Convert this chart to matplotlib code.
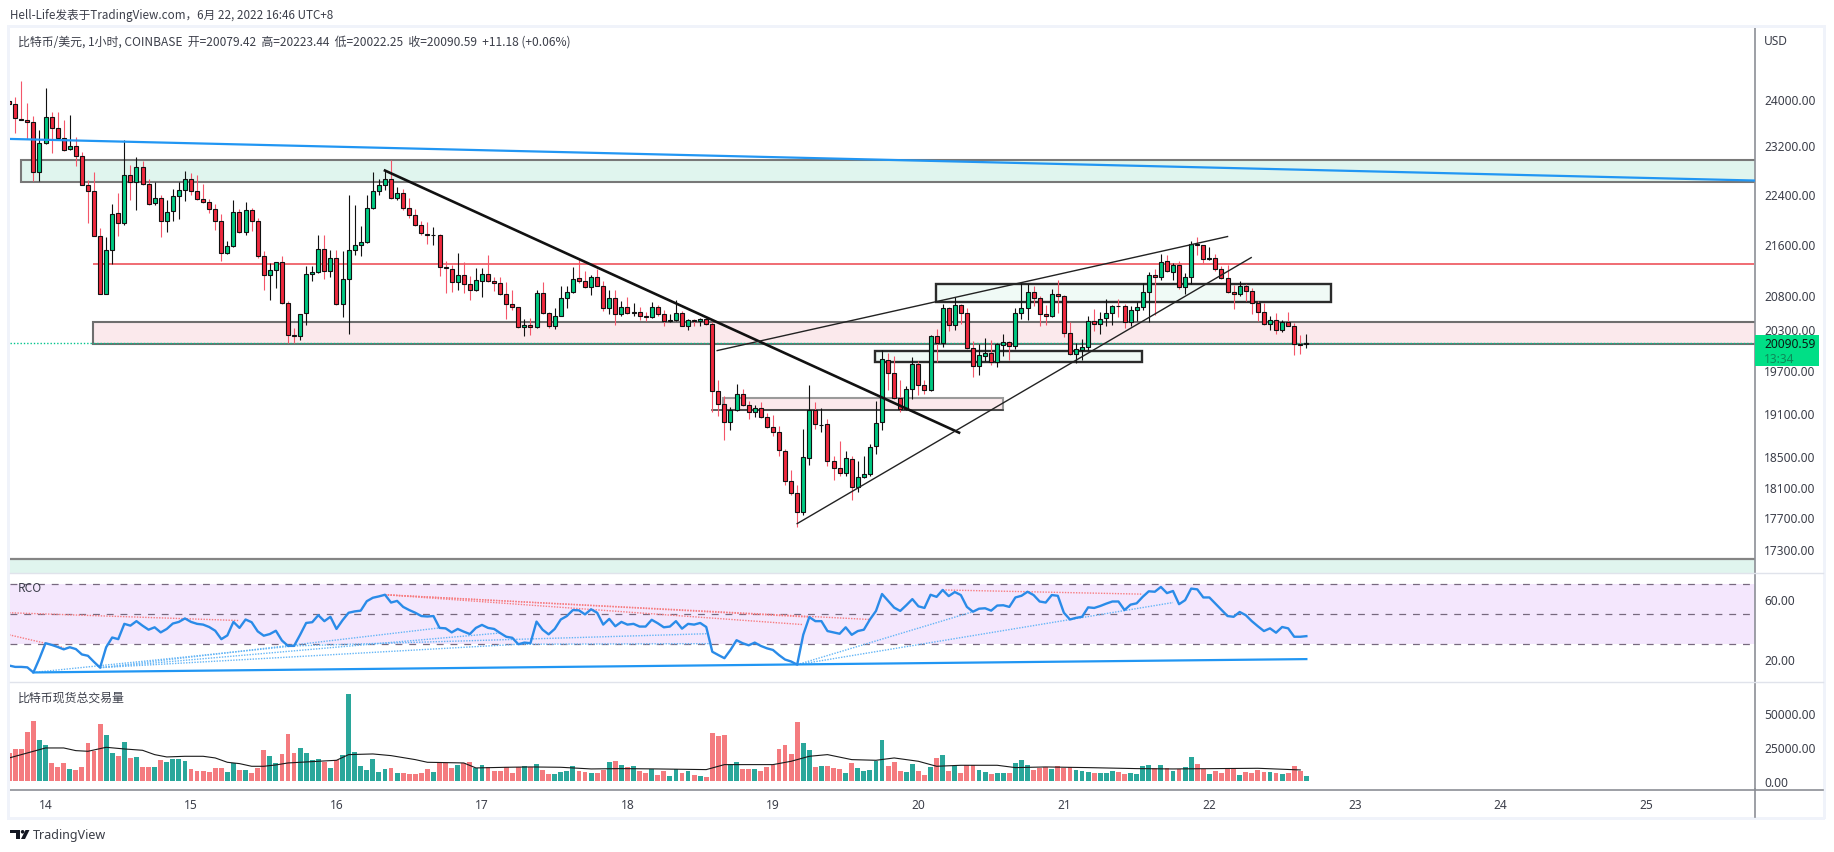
import matplotlib
matplotlib.use("Agg")
import matplotlib.pyplot as plt
from matplotlib.patches import Rectangle, Polygon, Circle
import numpy as np

W, H = 1834, 853
CJK = ['Noto Sans CJK SC', 'DejaVu Sans']
TEXT = '#3c3f4a'

# hourly candles, first one is 13 June 18:00, hour 0 is 14 June 00:00
first_hour = -6

opens = [
    23958, 23912, 23657, 23634, 23600, 22757, 23242, 23686, 23498, 23327, 23141, 23192, 23024, 22543, 22445, 21721,
    20823, 21501, 22088, 21928, 22707, 22592, 22840, 22559, 22244, 22330, 21960, 22120, 22363, 22461, 22641, 22445,
    22314, 22265, 22153, 21960, 21454, 21564, 22104, 21785, 22137, 21960, 21407, 21113, 21190, 21314, 20687, 20211,
    20196, 20537, 21128, 21159, 21517, 21175, 21376, 20672, 21051, 21501, 21580, 21626, 22169, 22445, 22543, 22641,
    22330, 22412, 22169, 22056, 21891, 21753, 21737, 21737, 21236, 21206, 21006, 21113, 20975, 20884, 21021, 21128,
    21021, 20990, 20823, 20672, 20627, 20329, 20358, 20329, 20838, 20537, 20343, 20492, 20762, 20853, 21067, 21021,
    20929, 21082, 20945, 20612, 20762, 20517, 20627, 20537, 20552, 20492, 20477, 20627, 20522, 20417, 20432, 20537,
    20343, 20432, 20417, 20447, 20373, 19404, 19222, 18971, 19138, 19362, 19208, 19110, 19166, 19040, 18902, 18833,
    18575, 18173, 18016, 17768, 18480, 19138, 18925, 18943, 18440, 18347, 18280, 18467, 18095, 18226, 18267, 18642,
    18971, 19846, 19660, 19306, 19152, 19433, 19789, 19489, 19418, 20196, 20094, 20612, 20358, 20657, 20537, 20021,
    19760, 19904, 19948, 19818, 20065, 20108, 20050, 20537, 20612, 20853, 20762, 20522, 20492, 20823, 20792, 20240,
    19933, 19992, 20036, 20417, 20373, 20462, 20537, 20642, 20642, 20402, 20582, 20627, 20853, 21113, 21082, 21329,
    21159, 21268, 20929, 21082, 21600, 21579, 21355, 21376, 21206, 21067, 20853, 20823, 20945, 20869, 20687, 20552,
    20373, 20432, 20285, 20402, 20343, 20074, 20079.42,
]
highs = [
    23987, 24034, 24309, 23918, 23698, 23469, 24192, 23773, 23779, 23629, 23727, 23344, 23091, 22630, 22757, 21848,
    21705, 22233, 22412, 23292, 22879, 23007, 22940, 22641, 22592, 22385, 22303, 22467, 22586, 22774, 22740, 22707,
    22565, 22314, 22228, 22072, 21637, 22298, 22158, 22271, 22169, 22008, 21481, 21298, 21319, 21413, 20712, 20314,
    20522, 21257, 21247, 21737, 21737, 21506, 21496, 21481, 22379, 22222, 21886, 22385, 22757, 22641, 22779, 22962,
    22510, 22478, 22330, 22153, 21965, 21939, 21864, 21753, 21334, 21273, 21457, 21314, 21092, 21221, 21221, 21423,
    21082, 21082, 21001, 20889, 20627, 20447, 20462, 20889, 21006, 20552, 20612, 20940, 20940, 21236, 21340, 21170,
    21113, 21206, 21026, 20889, 20889, 20717, 20777, 20687, 20627, 20547, 20702, 20657, 20577, 20527, 20737, 20567,
    20447, 20447, 20457, 20487, 20398, 19564, 19329, 19180, 19508, 19437, 19259, 19212, 19245, 19096, 19063, 18921,
    18602, 18325, 18125, 18879, 19494, 19245, 19166, 19017, 18503, 18714, 18580, 18503, 18445, 18512, 18674, 19268,
    19997, 19948, 19900, 19564, 19479, 19890, 19837, 19564, 20216, 20304, 20677, 20627, 20777, 20672, 20612, 20128,
    20079, 20172, 20142, 20094, 20231, 20128, 20612, 20990, 20980, 20940, 20798, 20662, 20904, 21041, 20813, 20398,
    20094, 20152, 20487, 20602, 20552, 20747, 20662, 20747, 20672, 20647, 20697, 20990, 21164, 21206, 21444, 21428,
    21298, 21334, 21144, 21647, 21705, 21579, 21543, 21444, 21247, 21273, 20965, 21026, 20980, 20914, 20712, 20687,
    20497, 20537, 20437, 20552, 20388, 20216, 20223.44,
]
lows = [
    23871, 23412, 23629, 23309, 22603, 22603, 23231, 23074, 23298, 23113, 23130, 22851, 22537, 21928, 21716, 20818,
    20818, 21288, 21726, 21891, 22303, 22142, 22543, 22222, 22222, 21700, 21785, 21955, 21992, 22276, 22385, 22303,
    22249, 22088, 21811, 21324, 21444, 21549, 21769, 21743, 21795, 21376, 20889, 20727, 20914, 20677, 20094, 20094,
    20142, 20353, 21016, 21144, 21051, 21082, 20662, 20477, 20221, 21428, 21402, 21611, 22158, 22385, 22456, 22314,
    22292, 22142, 22008, 21875, 21743, 21600, 21585, 21092, 20838, 20848, 20889, 20838, 20727, 20863, 20772, 21001,
    20863, 20813, 20447, 20587, 20314, 20191, 20211, 20314, 20527, 20319, 20299, 20487, 20612, 20838, 20990, 20914,
    20813, 20940, 20562, 20527, 20362, 20497, 20522, 20487, 20437, 20412, 20467, 20487, 20338, 20397, 20412, 20338,
    20289, 20338, 20348, 20363, 19105, 19049, 18719, 18866, 19119, 19198, 19017, 19035, 19026, 18888, 18774, 18503,
    18125, 17994, 17572, 17734, 18391, 18875, 18829, 18378, 18191, 18235, 18235, 17928, 18024, 18213, 18235, 18539,
    18866, 19414, 19292, 19105, 19143, 19296, 19343, 19362, 19399, 19813, 20031, 20265, 20279, 20378, 20011, 19597,
    19636, 19827, 19779, 19741, 19900, 19851, 20006, 20452, 20437, 20647, 20338, 20358, 20477, 20537, 20176, 19924,
    19803, 19851, 19987, 20275, 20231, 20348, 20363, 20472, 20319, 20338, 20412, 20587, 20397, 20502, 21031, 21154,
    21041, 20899, 20828, 20980, 21428, 21298, 21340, 21170, 21051, 20838, 20597, 20787, 20712, 20527, 20422, 20363,
    20289, 20231, 20250, 20338, 19924, 19938, 20022.25,
]
closes = [
    23912, 23669, 23634, 23594, 22757, 23242, 23686, 23498, 23327, 23124, 23192, 23024, 22543, 22445, 21721, 20823,
    21496, 22072, 21928, 22707, 22592, 22840, 22559, 22233, 22330, 21960, 22104, 22363, 22461, 22641, 22445, 22314,
    22265, 22153, 21960, 21454, 21564, 22104, 21785, 22137, 21960, 21407, 21113, 21190, 21314, 20687, 20211, 20196,
    20522, 21128, 21159, 21517, 21175, 21376, 20672, 21051, 21501, 21580, 21626, 22169, 22445, 22543, 22641, 22330,
    22412, 22169, 22056, 21891, 21769, 21743, 21743, 21236, 21221, 21006, 21113, 20975, 20884, 21036, 21128, 21021,
    20990, 20823, 20672, 20627, 20329, 20358, 20329, 20838, 20537, 20343, 20492, 20762, 20853, 21051, 21021, 20929,
    21082, 20945, 20612, 20762, 20522, 20627, 20537, 20552, 20492, 20477, 20627, 20522, 20412, 20432, 20537, 20343,
    20432, 20417, 20447, 20373, 19404, 19222, 18971, 19138, 19362, 19208, 19110, 19166, 19040, 18902, 18833, 18588,
    18173, 18016, 17768, 18494, 19138, 18943, 18930, 18440, 18347, 18280, 18480, 18095, 18226, 18267, 18629, 18957,
    19861, 19660, 19306, 19152, 19433, 19789, 19489, 19418, 20196, 20094, 20612, 20358, 20657, 20537, 20021, 19760,
    19919, 19948, 19818, 20079, 20108, 20050, 20537, 20612, 20853, 20762, 20522, 20492, 20823, 20792, 20240, 19933,
    20006, 20036, 20417, 20373, 20447, 20537, 20642, 20637, 20402, 20582, 20627, 20853, 21113, 21082, 21314, 21175,
    21268, 20929, 21082, 21595, 21579, 21360, 21371, 21206, 21067, 20853, 20823, 20945, 20869, 20687, 20552, 20373,
    20432, 20285, 20402, 20343, 20079, 20065, 20090.59,
]

rsi_values = [
    15.8, 14.9, 14.9, 14.6, 11.2, 20.5, 30.7, 29.6, 28.2, 26.6, 28.0, 26.8, 23.2, 22.3, 18.2, 14.4, 28.0, 34.5, 33.4,
    43.6, 42.4, 45.4, 42.4, 39.7, 41.3, 37.9, 40.2, 43.8, 44.9, 47.2, 44.9, 43.6, 43.1, 41.5, 39.0, 33.4, 35.9, 44.9,
    40.9, 46.5, 44.7, 38.6, 35.7, 36.8, 39.0, 32.5, 28.9, 28.9, 36.3, 44.2, 44.7, 49.4, 45.4, 48.3, 40.2, 46.0, 51.0,
    51.9, 52.4, 58.7, 61.0, 61.9, 63.0, 57.8, 58.9, 54.9, 52.8, 51.0, 48.8, 48.5, 48.8, 40.9, 40.6, 37.9, 40.2, 38.4,
    36.8, 40.9, 42.9, 40.9, 40.2, 37.5, 35.0, 34.3, 30.0, 31.1, 30.7, 45.1, 39.7, 36.6, 40.2, 46.5, 48.8, 52.8, 52.6,
    49.9, 53.3, 51.0, 43.1, 46.9, 42.0, 44.9, 43.1, 43.6, 41.8, 41.8, 46.3,
    44.0, 41.3, 41.8, 45.4, 40.4, 43.6, 43.1, 44.2, 41.5, 25.0, 22.8, 20.7, 26.2, 32.7, 30.7, 29.3, 31.1, 28.9, 27.3,
    26.2, 22.8, 19.8, 18.5, 16.4, 36.3, 48.1, 45.4, 45.4, 38.8, 37.9, 37.0, 41.3, 36.3, 38.8, 39.7, 46.5, 52.2, 63.5,
    58.9, 54.4, 52.2, 56.0, 60.1, 55.3, 54.2, 63.0, 61.6, 66.2, 62.1, 64.8, 62.8, 54.9, 51.7, 53.7, 54.0, 52.4, 55.8,
    56.0, 54.9, 61.2, 62.3, 65.0, 62.8, 58.5, 57.8, 62.8, 62.3, 51.0, 46.5, 47.6, 48.3, 54.6, 54.2, 55.5, 57.1, 58.5,
    58.5, 52.8, 56.4, 57.3, 61.6, 65.3, 65.0, 68.2, 64.1, 65.5, 56.7, 59.4, 67.1, 66.6, 61.2, 61.2, 57.1, 53.1, 48.8,
    48.3, 51.5, 49.4, 45.4, 42.0, 38.8, 40.6, 37.7, 41.5, 40.6, 35.0, 35.0, 35.4,
]

volumes = [
    20664, 23616, 23616, 36162, 44280, 30258, 26568, 13284, 10332, 13284, 8856, 8118, 10332, 28044, 22140, 42066,
    33948, 20664, 18450, 28782, 16974, 17712, 10332, 10332, 10332, 15498, 14022, 16236, 16236, 14760, 8856, 7380,
    7380, 6642, 9594, 9594, 6642, 13284, 8118, 8118, 5904, 9594, 22878, 18450, 13284, 19926, 34686, 20664,
    24354, 20664, 15498, 16236, 14022, 9594, 15498, 19188, 64206, 21402, 11070, 8118, 16236, 6642, 8856, 9594,
    5904, 5904, 5166, 5166, 5904, 8856, 6642, 13284, 13284, 9594, 11808, 13284, 14022, 9594, 11808, 10332,
    7380, 7380, 10332, 5904, 10332, 11070, 10332, 12546, 8118, 5166, 5166, 6642, 7380, 11070, 7380, 6642,
    5904, 5904, 8118, 14022, 14760, 11808, 10332, 11070, 7380, 5904, 8856, 4428, 7380, 3690, 8856, 5904,
    7380, 4428, 3690, 2952, 35424, 33210, 33948, 12546, 14022, 8856, 8856, 8856, 7380, 10332, 11808, 23616,
    26568, 19926, 43542, 28044, 22878, 10332, 11070, 11070, 9594, 8856, 5904, 13284, 9594, 7380, 8118, 14760,
    30258, 11070, 14022, 7380, 6642, 12546, 7380, 4428, 10332, 16974, 19188, 7380, 11070, 5904, 11808, 11808,
    8118, 6642, 5166, 5904, 5904, 5904, 13284, 15498, 11808, 8118, 9594, 10332, 8856, 11070, 9594, 10332,
    8118, 7380, 6642, 5904, 5904, 5904, 7380, 6642, 5166, 5904, 5166, 11070, 11808, 9594, 11808, 9594,
    7380, 8856, 10332, 17712, 12546, 8856, 5166, 7380, 5904, 8856, 8856, 4428, 6642, 5904, 8118, 6642,
    6642, 5904, 5166, 5904, 11070, 7380, 3690,
]

# black moving average on the volume pane, read at its bends
ma_hours = [-6, -4, -2, 0, 3, 5, 7, 10, 13, 16, 18, 20, 23, 26, 28, 30, 32, 34, 36, 38, 40, 44, 48, 50, 54, 57, 61, 63,
            69, 71, 76, 80, 85, 90, 95, 101, 109, 112, 120, 123, 126, 129, 133, 137, 140, 144, 147, 151, 157, 160,
            165, 172, 180, 186, 193, 200, 207]
ma_values = [16728, 19188, 21648, 24108, 24108, 22140, 21648, 24600, 23370, 22386, 19188, 17466, 17958, 17958, 16728,
             13530, 12546, 10578, 10578, 11562, 13038, 14022, 15006, 19188, 19680, 18450, 15498, 13530, 13038, 9348,
             9840, 10086, 9840, 8610, 8856, 8610, 8118, 11808, 11808, 14268, 17958, 19188, 15498, 15006, 16728, 14268,
             10578, 11316, 11316, 9594, 10086, 9594, 8856, 8610, 8856, 9102, 7872]

price_ticks = [24000, 23200, 22400, 21600, 20800, 20300, 19700, 19100, 18500, 18100, 17700, 17300]
rsi_ticks = [60, 20]
vol_ticks = [50000, 25000, 0]
day_labels = [14, 15, 16, 17, 18, 19, 20, 21, 22, 23, 24, 25]

# drawings on the price pane: (hour from, hour to, price top, price bottom)
green_zone = (-4.04, 290, 22962, 22597)
pink_zone = (7.84, 290, 20398, 20083)
small_pink_box = (111.8, 158, 19310, 19143)
mid_box = (136.9, 180.9, 19982, 19822)
upper_box = (146.9, 212, 20980, 20707)
bottom_zone_top = 17174
resistance_price = 21288
resistance_from = 7.84
current_price = 20090.59

# trend lines: (hour, price, hour, price)
blue_trend = (-5.86, 23309, 282, 22614)
down_trend = (56, 22779, 150.7, 18824)
rising_upper = (110.8, 19982, 195, 21711)
rising_lower = (124, 17618, 198.9, 21381)
small_box_base = (110, 19143, 158, 19143)

# rsi pane drawings: (hour, value, hour, value)
rsi_support = (-2, 11.2, 208, 20.1)
rsi_blue_dots = [(-2, 11.2, 41, 28.9), (9, 14.4, 65, 40.9), (9, 14.4, 75, 37.5), (9, 14.4, 78, 30.0),
                 (41, 28.9, 109, 37.0), (78, 30.0, 110, 30.4), (124, 16.4, 153, 51.7), (124, 16.4, 186, 57.8)]
rsi_red_dots = [(-6, 36.3, 3, 27.8), (-6, 51.0, 32, 45.8), (56, 63.0, 136, 46.5), (56, 63.0, 126, 48.1),
                (56, 63.0, 125, 43.1), (148, 66.2, 181, 63.4)]

price_top, price_bottom = 25276, 17001
rsi_top, rsi_bottom = 77.1, 5.1
vol_top, vol_bottom = 72383, -6647
hour_left, hour_right = -5.86, 281.93

PANE_L, PANE_R = 10, 1754.5
# readings were taken on pixel rows, panes sit half a pixel lower
ROW_SHIFT = 0.6


def make_pane(fig, top, bottom):
    top += ROW_SHIFT
    bottom += ROW_SHIFT
    ax = fig.add_axes([PANE_L / W, 1 - bottom / H, (PANE_R - PANE_L) / W, (bottom - top) / H])
    ax.set_xlim(hour_left, hour_right)
    for side in ['top', 'left', 'bottom']:
        ax.spines[side].set_visible(False)
    ax.spines['right'].set_color('#8c8f96')
    ax.spines['right'].set_linewidth(1.2)
    ax.yaxis.tick_right()
    ax.tick_params(axis='y', length=0, pad=7, labelsize=8.6, labelcolor=TEXT)
    ax.set_xticks([])
    return ax


def draw_box(ax, box, fill, edge, lw=1.5):
    x0, x1, top, bottom = box
    ax.add_patch(Rectangle((x0, bottom), x1 - x0, top - bottom, facecolor=fill, edgecolor=edge, linewidth=lw, zorder=1))


def draw_candles(ax, hours):
    o = np.array(opens, dtype=float)
    c = np.array(closes, dtype=float)
    up = c >= o
    wick_colors = ['#111111' if u else '#f4566a' for u in up]
    body_colors = ['#00c982' if u else '#f0293e' for u in up]
    ax.vlines(hours, lows, highs, colors=wick_colors, linewidth=0.8, zorder=2)
    ax.bar(hours, np.abs(c - o), bottom=np.minimum(o, c), width=0.66, color=body_colors,
           edgecolor='#111111', linewidth=0.8, zorder=3)


def draw_segment(ax, seg, **kw):
    ax.plot([seg[0], seg[2]], [seg[1], seg[3]], **kw)


def draw_price_pane(ax, hours):
    ax.set_yscale('log')
    ax.set_ylim(price_bottom, price_top)
    ax.set_yticks(price_ticks, labels=[f'{p:.2f}' for p in price_ticks])
    ax.set_yticks([], minor=True)

    draw_box(ax, green_zone, '#e0f5ee', '#787878')
    draw_box(ax, pink_zone, '#fbe9ec', '#6e6e6e')
    draw_box(ax, small_pink_box, '#fbe9ec', '#9a9a9a')
    draw_box(ax, mid_box, '#f0faf6', '#2b2b2b', lw=1.7)
    draw_box(ax, upper_box, '#f0faf6', '#2b2b2b', lw=1.7)
    ax.axhspan(price_bottom, bottom_zone_top, facecolor='#e0f5ee', edgecolor='none', zorder=1)
    ax.axhline(bottom_zone_top, color='#858585', linewidth=1.6, zorder=1)
    ax.hlines(resistance_price, resistance_from, hour_right, color='#ef6068', linewidth=1.3, zorder=1.5)
    draw_segment(ax, small_box_base, color='#333333', linewidth=1.1, zorder=1.5)

    draw_candles(ax, hours)

    ax.axhline(current_price, color='#00c48c', linewidth=1.0, linestyle=(0, (1, 1.4)), zorder=1.8)
    draw_segment(ax, blue_trend, color='#2196f3', linewidth=1.6, zorder=4)
    draw_segment(ax, down_trend, color='#111111', linewidth=1.9, zorder=4)
    draw_segment(ax, rising_upper, color='#222222', linewidth=1.0, zorder=4)
    draw_segment(ax, rising_lower, color='#222222', linewidth=1.0, zorder=4)
    ax.set_xlim(hour_left, hour_right)


def draw_rsi_pane(ax, hours):
    ax.set_ylim(rsi_bottom, rsi_top)
    ax.set_yticks(rsi_ticks, labels=[f'{v:.2f}' for v in rsi_ticks])
    ax.axhspan(30, 70, facecolor='#f4e7fd', edgecolor='none', zorder=1)
    for level in [70, 50, 30]:
        ax.axhline(level, color='#77697f', linewidth=0.9, linestyle=(0, (5.5, 5.5)), zorder=1.5)
    for seg in rsi_blue_dots:
        draw_segment(ax, seg, color='#64b5f6', linewidth=1.0, linestyle=(0, (1, 1)), zorder=2)
    for seg in rsi_red_dots:
        draw_segment(ax, seg, color='#f77c80', linewidth=1.0, linestyle=(0, (1, 1)), zorder=2)
    draw_segment(ax, rsi_support, color='#2196f3', linewidth=1.6, zorder=3)
    ax.plot(hours, rsi_values, color='#2a8be8', linewidth=1.7, zorder=4)
    ax.set_xlim(hour_left, hour_right)


def draw_volume_pane(ax, hours):
    ax.set_ylim(vol_bottom, vol_top)
    ax.set_yticks(vol_ticks, labels=[f'{v:.2f}' for v in vol_ticks])
    up = np.array(closes) >= np.array(opens)
    colors = ['#2aa79b' if u else '#f47b7f' for u in up]
    ax.bar(hours, volumes, width=0.8, color=colors, linewidth=0, zorder=2)
    ax.plot(ma_hours, ma_values, color='#1a1a1a', linewidth=0.8, zorder=3)
    ax.set_xlim(hour_left, hour_right)
    ax.spines['bottom'].set_visible(True)
    ax.spines['bottom'].set_color('#8c8f96')
    ax.spines['bottom'].set_linewidth(1.2)
    ax.set_xticks([24 * i for i in range(len(day_labels))], labels=[str(d) for d in day_labels])
    ax.tick_params(axis='x', length=0, pad=6, labelsize=8.6, labelcolor=TEXT)


def draw_frame(fig):
    ov = fig.add_axes([0, 0, 1, 1], zorder=10)
    ov.set_xlim(0, W)
    ov.set_ylim(H, 0)
    ov.axis('off')
    band = '#f0f3fa'
    ov.add_patch(Rectangle((7, 26), 1818, 2.5, color=band, linewidth=0))
    ov.add_patch(Rectangle((7, 26), 3, 794, color=band, linewidth=0))
    ov.add_patch(Rectangle((1823, 26), 2.5, 794, color=band, linewidth=0))
    ov.add_patch(Rectangle((7, 818), 1818, 2.5, color=band, linewidth=0))
    for y in [574, 683]:
        ov.plot([10, 1823], [y, y], color='#e0e3eb', linewidth=1.0)
    ov.plot([1754.5, 1823], [790.6, 790.6], color='#8c8f96', linewidth=1.2)
    ov.plot([1754.5, 1754.5], [790, 818], color='#8c8f96', linewidth=1.2)

    ov.text(1764, 41, 'USD', fontsize=8.6, color=TEXT, va='center', family='Noto Sans')

    # last price tag
    ov.add_patch(Rectangle((1755, 336), 64, 31, color='#00df86', linewidth=0))
    ov.text(1764, 344.5, f'{current_price:.2f}', fontsize=8.6, color='#0c1a14', va='center', family='Noto Sans')
    ov.text(1764, 359, '13:34', fontsize=8.6, color='#0d8a58', va='center', family='Noto Sans')

    ov.text(10, 15, 'Hell-Life发表于TradingView.com，6月 22, 2022 16:46 UTC+8', fontsize=8.4, color=TEXT,
            va='center', family=CJK)
    ov.text(18, 42, '比特币/美元, 1小时, COINBASE  开=20079.42  高=20223.44  低=20022.25  收=20090.59  +11.18 (+0.06%)',
            fontsize=8.6, color=TEXT, va='center', family=CJK)
    ov.text(18, 589, 'RCO', fontsize=8.6, color=TEXT, va='center', family=CJK)
    ov.text(18, 698, '比特币现货总交易量', fontsize=8.6, color=TEXT, va='center', family=CJK)

    # TradingView logo
    logo = '#131722'
    ov.add_patch(Rectangle((10, 831), 10, 3.4, color=logo, linewidth=0))
    ov.add_patch(Rectangle((15.5, 831), 4.5, 9, color=logo, linewidth=0))
    ov.add_patch(Circle((22.6, 832.8), 1.8, color=logo, linewidth=0))
    ov.add_patch(Polygon([(25.5, 831), (29.5, 831), (25, 840), (21, 840)], color=logo, linewidth=0))
    ov.text(33, 836, 'TradingView', fontsize=9.0, color='#3a3d46', va='center', family='Noto Sans')


def main():
    hours = np.arange(first_hour, first_hour + len(opens))
    for name, arr in [('highs', highs), ('lows', lows), ('closes', closes), ('rsi', rsi_values), ('vol', volumes)]:
        assert len(arr) == len(opens), (name, len(arr), len(opens))

    plt.rcParams['font.family'] = ['Noto Sans', 'DejaVu Sans']
    fig = plt.figure(figsize=(W / 100, H / 100), dpi=100, facecolor='white')
    ax_price = make_pane(fig, 28, 573)
    ax_rsi = make_pane(fig, 574, 682)
    ax_vol = make_pane(fig, 683, 790)

    draw_price_pane(ax_price, hours)
    draw_rsi_pane(ax_rsi, hours)
    draw_volume_pane(ax_vol, hours)
    draw_frame(fig)

    fig.savefig('out.png', dpi=100)


if __name__ == '__main__':
    main()
